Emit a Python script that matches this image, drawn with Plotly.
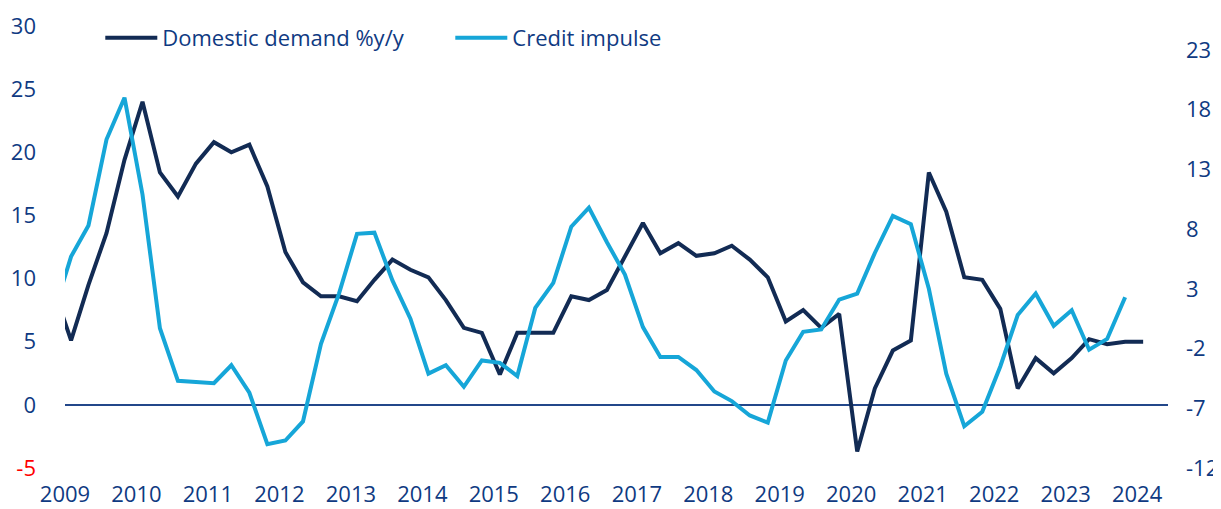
import pandas as pd
import plotly.graph_objects as go

# Quarterly observation dates (first point sits just before the visible axis range)
dates = pd.date_range("2008-11-01", periods=62, freq="3MS")

domestic_demand = [
    9.3, 5.1, 9.5, 13.6, 19.4, 24.0, 18.4, 16.5, 19.1, 20.8,
    20.0, 20.6, 17.3, 12.1, 9.7, 8.6, 8.6, 8.2, 9.9, 11.5,
    10.7, 10.1, 8.3, 6.1, 5.7, 2.4, 5.7, 5.7, 5.7, 8.6,
    8.3, 9.1, 11.7, 14.4, 12.0, 12.8, 11.8, 12.0, 12.6, 11.5,
    10.1, 6.6, 7.5, 6.1, 7.2, -3.7, 1.3, 4.3, 5.1, 18.4,
    15.3, 10.1, 9.9, 7.6, 1.3, 3.7, 2.5, 3.7, 5.2, 4.8,
    5.0, 5.0,
]

credit_impulse = [
    0.8, 5.7, 8.3, 15.5, 19.0, 10.9, -0.3, -4.7, -4.8, -4.9,
    -3.4, -5.7, -10.0, -9.7, -8.1, -1.6, 2.6, 7.6, 7.7, 3.7,
    0.5, -4.1, -3.4, -5.2, -3.0, -3.2, -4.3, 1.4, 3.5, 8.2,
    9.8, 6.9, 4.2, -0.2, -2.7, -2.7, -3.8, -5.6, -6.4, -7.6,
    -8.2, -3.0, -0.6, -0.4, 2.1, 2.6, 6.0, 9.1, 8.4, 3.0,
    -4.1, -8.5, -7.3, -3.5, 0.8, 2.6, -0.1, 1.2, -2.1, -1.2,
    2.3, None,
]

left_ticks = [-5, 0, 5, 10, 15, 20, 25, 30]
left_ticktext = ['<span style="color:#FF0000">-5</span>', "0", "5", "10", "15", "20", "25", "30"]
right_ticks = [-12, -7, -2, 3, 8, 13, 18, 23]
year_ticks = [str(y) for y in range(2009, 2025)]

DARK = "#122B54"
LIGHT = "#16A6D8"
TEXT = "#0F3A82"
FONT = "Open Sans"
FS = 22

fig = go.Figure()
fig.add_trace(go.Scatter(
    x=dates, y=domestic_demand, name="Domestic demand %y/y",
    mode="lines", line=dict(color=DARK, width=4), yaxis="y",
))
fig.add_trace(go.Scatter(
    x=dates, y=credit_impulse, name="Credit impulse",
    mode="lines", line=dict(color=LIGHT, width=4), yaxis="y2",
))

# the page body adds an 8px offset, so the figure is sized 8px smaller
fig.update_layout(
    width=1213, height=501,
    margin=dict(l=57, r=53, t=18, b=41, autoexpand=False),
    paper_bgcolor="white", plot_bgcolor="white",
    font=dict(family=FONT, size=FS, color=TEXT),
    showlegend=True,
    legend=dict(
        orientation="h", x=0.032, y=0.973, xanchor="left", yanchor="middle",
        font=dict(family=FONT, size=FS, color=TEXT),
        bgcolor="rgba(0,0,0,0)", entrywidth=283, itemwidth=52,
    ),
    xaxis=dict(
        type="date",
        range=["2009-01-01", "2024-06-07"],
        tickvals=[f"{y}-01-01" for y in year_ticks],
        ticktext=year_ticks,
        showgrid=False, zeroline=False, showline=False, ticks="",
        ticklabelstandoff=11,
        tickfont=dict(family=FONT, size=FS, color=TEXT),
    ),
    yaxis=dict(
        range=[-5, 30], tickvals=left_ticks, ticktext=left_ticktext,
        showgrid=False, zeroline=True, zerolinecolor="#23478A", zerolinewidth=1.5,
        showline=False, ticks="", ticklabelstandoff=28,
        tickfont=dict(family=FONT, size=FS, color=TEXT),
    ),
    yaxis2=dict(
        range=[-12, 25], tickvals=right_ticks, ticktext=[str(v) for v in right_ticks],
        overlaying="y", side="right",
        showgrid=False, zeroline=False, showline=False, ticks="", ticklabelstandoff=17,
        tickfont=dict(family=FONT, size=FS, color=TEXT),
    ),
)

fig.write_html("out.html")
